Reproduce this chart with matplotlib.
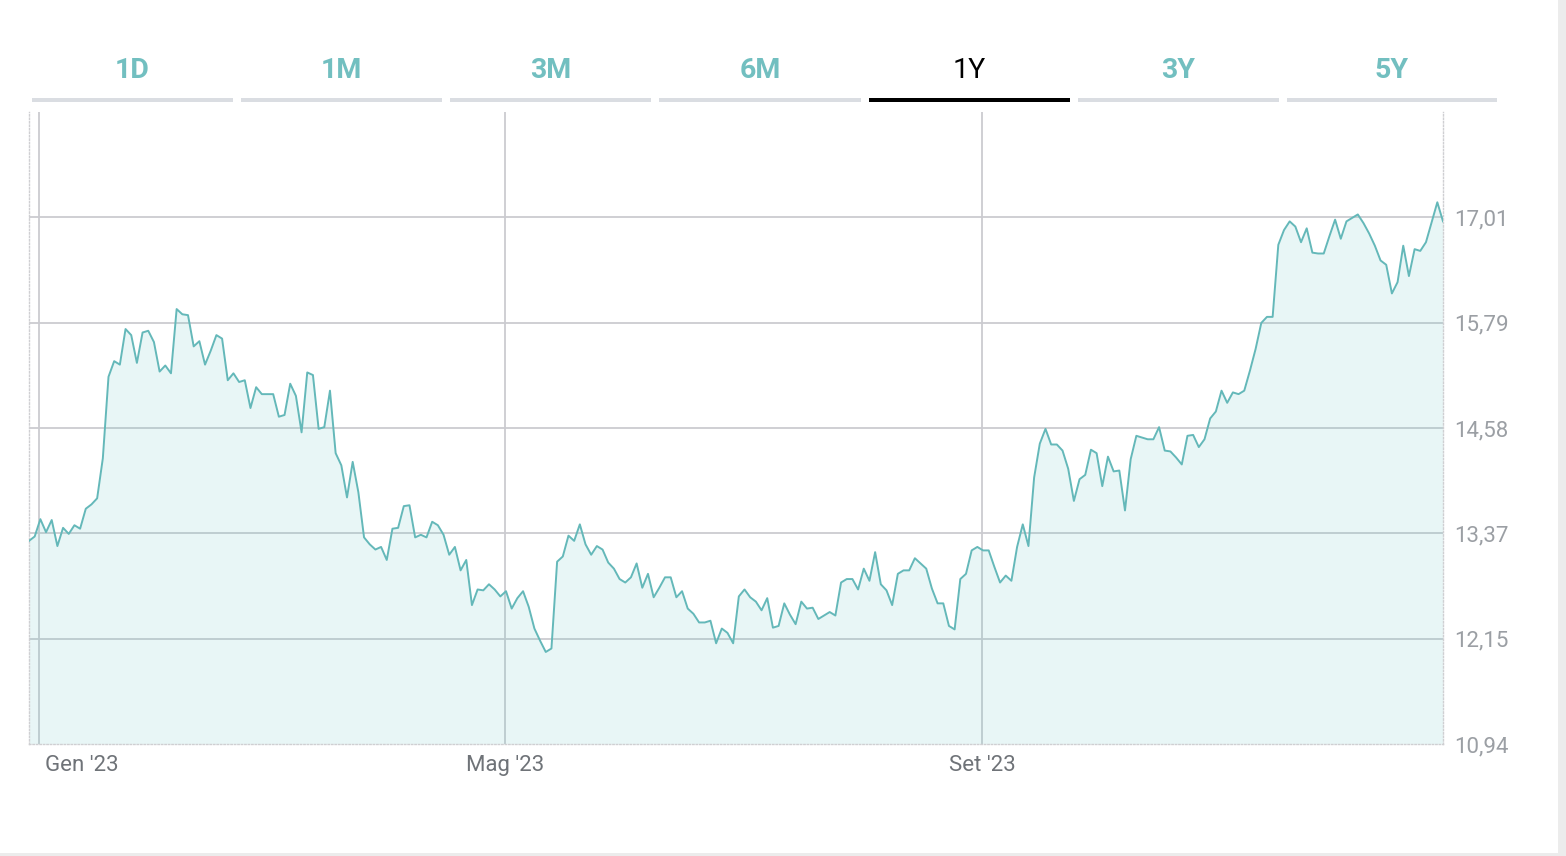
import matplotlib
matplotlib.use("Agg")
import matplotlib.pyplot as plt
from matplotlib.patches import Rectangle
import matplotlib.transforms as mtransforms
import numpy as np
import pandas as pd

# Prezzo di chiusura, un punto per seduta
prices = [
    13.28, 13.33, 13.53, 13.38, 13.52, 13.22, 13.43, 13.36, 13.46, 13.42,
    13.65, 13.70, 13.77, 14.23, 15.17, 15.35, 15.31, 15.72, 15.65, 15.33,
    15.68, 15.70, 15.57, 15.23, 15.30, 15.21, 15.95, 15.89, 15.88, 15.52,
    15.58, 15.31, 15.47, 15.65, 15.61, 15.13, 15.21, 15.11, 15.13, 14.81,
    15.05, 14.97, 14.97, 14.97, 14.71, 14.73, 15.09, 14.95, 14.53, 15.22,
    15.19, 14.57, 14.59, 15.01, 14.29, 14.15, 13.78, 14.19, 13.84, 13.32,
    13.24, 13.18, 13.21, 13.06, 13.42, 13.43, 13.68, 13.69, 13.32, 13.35,
    13.32, 13.50, 13.46, 13.35, 13.12, 13.21, 12.94, 13.06, 12.54, 12.72,
    12.71, 12.78, 12.72, 12.64, 12.70, 12.50, 12.62, 12.70, 12.52, 12.27,
    12.13, 12.00, 12.04, 13.04, 13.10, 13.34, 13.28, 13.47, 13.24, 13.12,
    13.22, 13.18, 13.03, 12.96, 12.84, 12.80, 12.86, 13.02, 12.74, 12.90,
    12.63, 12.74, 12.86, 12.86, 12.63, 12.70, 12.50, 12.44, 12.34, 12.34,
    12.36, 12.10, 12.27, 12.22, 12.10, 12.64, 12.72, 12.63, 12.58, 12.48,
    12.62, 12.28, 12.30, 12.56, 12.43, 12.32, 12.58, 12.50, 12.51, 12.38,
    12.42, 12.46, 12.42, 12.80, 12.84, 12.84, 12.72, 12.96, 12.82, 13.15,
    12.78, 12.71, 12.54, 12.90, 12.94, 12.94, 13.08, 13.02, 12.96, 12.73,
    12.56, 12.56, 12.30, 12.26, 12.84, 12.90, 13.17, 13.21, 13.17, 13.17,
    12.98, 12.80, 12.88, 12.82, 13.21, 13.47, 13.22, 14.01, 14.40, 14.57,
    14.39, 14.39, 14.32, 14.11, 13.74, 13.99, 14.04, 14.33, 14.29, 13.91,
    14.25, 14.08, 14.09, 13.63, 14.22, 14.49, 14.47, 14.45, 14.45, 14.59,
    14.32, 14.31, 14.24, 14.16, 14.49, 14.50, 14.36, 14.45, 14.69, 14.77,
    15.01, 14.87, 14.99, 14.97, 15.01, 15.24, 15.49, 15.79, 15.86, 15.86,
    16.69, 16.86, 16.96, 16.90, 16.72, 16.88, 16.60, 16.59, 16.59, 16.79,
    16.98, 16.76, 16.96, 17.00, 17.04, 16.94, 16.82, 16.68, 16.51, 16.46,
    16.13, 16.26, 16.68, 16.33, 16.64, 16.62, 16.72, 16.95, 17.18, 16.96,
]
start_date = "2022-12-29 10:00"
end_date = "2023-12-28 19:00"

month_ticks = ["2023-01-01", "2023-05-01", "2023-09-01"]
month_labels = ["Gen '23", "Mag '23", "Set '23"]

y_min, y_max = 10.94, 18.22
tabs = ["1D", "1M", "3M", "6M", "1Y", "3Y", "5Y"]
active_tab = "1Y"

LINE = "#64b8b9"
TAB_TEXT = "#72bfc0"
GRID = "#cbcbd0"
W, H = 1566, 856

plt.rcParams["font.family"] = ["Roboto", "DejaVu Sans"]

dates = pd.date_range(start_date, end_date, periods=len(prices))
ticks_x = pd.to_datetime(month_ticks)
ticks_y = np.linspace(y_min, y_max, 7)[:-1]

fig = plt.figure(figsize=(W / 100, H / 100), dpi=100)
ax = fig.add_axes([29 / W, 1 - 744 / H, (1443 - 29) / W, (744 - 112) / H])

ax.set_xlim(dates[0], dates[-1])
ax.set_ylim(y_min, y_max)

# griglia
for y in ticks_y[1:]:
    ax.axhline(y, color=GRID, lw=1.3, zorder=1)
for x in ticks_x:
    ax.axvline(x, color=GRID, lw=1.3, zorder=1)

ax.fill_between(dates, prices, y_min, color="#5cc4c4", alpha=0.14, lw=0, zorder=2)
ax.plot(dates, prices, color=LINE, lw=1.4, zorder=3)

for side in ["left", "right", "bottom"]:
    ax.spines[side].set_color("#cfcfd2")
    ax.spines[side].set_linestyle((0, (1, 1.5)))
    ax.spines[side].set_linewidth(1)
ax.spines["top"].set_visible(False)

ax.yaxis.tick_right()
ax.set_yticks(ticks_y)
ax.set_yticklabels([f"{v:.2f}".replace(".", ",") for v in ticks_y])
ax.tick_params(axis="y", length=0, pad=8, labelsize=16, labelcolor="#9b9fa4")

ax.set_xticks(ticks_x)
ax.set_xticklabels(month_labels)
ax.tick_params(axis="x", length=0, pad=8, labelsize=16, labelcolor="#6f7378")
first = ax.get_xticklabels()[0]
first.set_horizontalalignment("left")
first.set_transform(first.get_transform() + mtransforms.ScaledTranslation(6 / 100, 0, fig.dpi_scale_trans))

# schede periodo
tab_starts = [32, 241, 450, 659, 869, 1078, 1287]
tab_widths = [201, 201, 201, 202, 201, 201, 210]
for label, x0, w in zip(tabs, tab_starts, tab_widths):
    active = label == active_tab
    fig.add_artist(Rectangle((x0 / W, 1 - 101.5 / H), w / W, 4 / H,
                             transform=fig.transFigure,
                             color="black" if active else "#dadde2", lw=0))
    fig.text((x0 + w / 2) / W, 1 - 67 / H, label, ha="center", va="center_baseline",
             fontsize=20.5, fontweight="normal" if active else "bold",
             color="black" if active else TAB_TEXT)

# bordi pagina
fig.add_artist(Rectangle((1558 / W, 0), 8 / W, 1, transform=fig.transFigure,
                         color="#ececec", lw=0))
fig.add_artist(Rectangle((0, 0), 1, 3 / H, transform=fig.transFigure,
                         color="#ececec", lw=0))

fig.savefig("out.png", dpi=100)
